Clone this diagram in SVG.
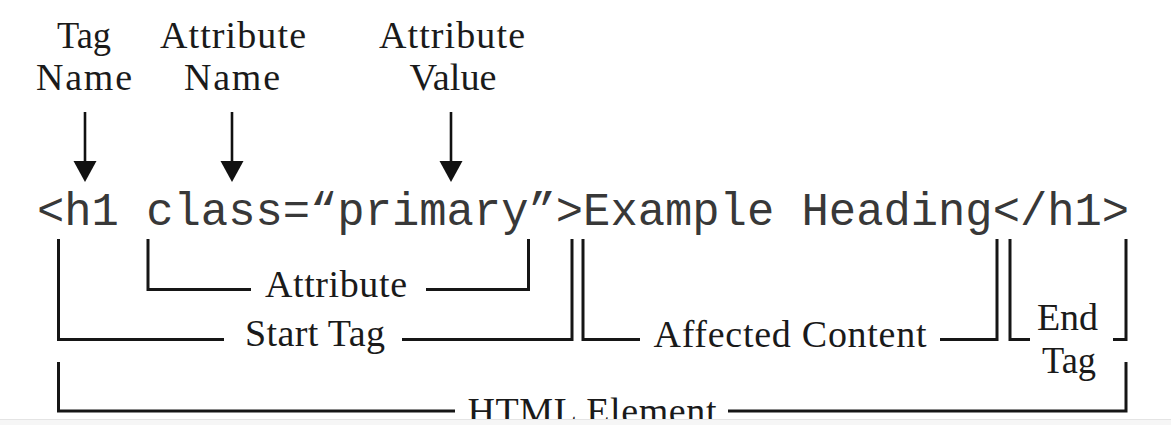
<svg xmlns="http://www.w3.org/2000/svg" width="1171" height="425" viewBox="0 0 1171 425">
  <defs>
    <marker id="arrowhead" markerUnits="userSpaceOnUse" markerWidth="22" markerHeight="24" viewBox="0 -12 22 24" refX="0" refY="0" orient="auto">
      <path d="M0,-11.5 L21,0 L0,11.5 Z" fill="#111"/>
    </marker>
    <style>
      .lbl { font-family: "Liberation Serif", "Times New Roman", serif; font-size: 38px; fill: #1a1a1a; text-anchor: middle; }
      .code { font-family: "Liberation Mono", "Courier New", monospace; font-size: 45.5px; fill: #383838; }
      .br { fill: none; stroke: #161616; stroke-width: 3; stroke-linejoin: miter; stroke-linecap: butt; }
      .arrow { stroke: #111; stroke-width: 2.6; marker-end: url(#arrowhead); }
    </style>
  </defs>
  <rect x="0" y="0" width="1171" height="425" fill="#ffffff"/>

  <g id="tag-name">
    <text class="lbl" x="84" y="48" textLength="54" lengthAdjust="spacingAndGlyphs">Tag</text>
    <text class="lbl" x="84" y="90" textLength="96" lengthAdjust="spacing">Name</text>
  </g>
  <g id="attribute-name">
    <text class="lbl" x="233" y="48" textLength="146" lengthAdjust="spacing">Attribute</text>
    <text class="lbl" x="232" y="90" textLength="96" lengthAdjust="spacing">Name</text>
  </g>
  <g id="attribute-value">
    <text class="lbl" x="452" y="48" textLength="146" lengthAdjust="spacing">Attribute</text>
    <text class="lbl" x="453" y="90" textLength="87" lengthAdjust="spacingAndGlyphs">Value</text>
  </g>

  <g id="connectors">
    <line class="arrow" x1="85" y1="112" x2="85" y2="161"/>
    <line class="arrow" x1="232" y1="112" x2="232" y2="161"/>
    <line class="arrow" x1="451" y1="112" x2="451" y2="161"/>
  </g>

  <g id="code">
    <text class="code" x="37" y="225" xml:space="preserve">&lt;h1 class=“primary”&gt;Example Heading&lt;/h1&gt;</text>
  </g>

  <g id="attribute">
    <path class="br" d="M148,239 V289.5 H251 M426,289.5 H528.5 V239"/>
    <text class="lbl" x="336" y="297" textLength="142" lengthAdjust="spacing">Attribute</text>
  </g>
  <g id="start-tag">
    <path class="br" d="M58.5,239 V339.5 H224 M402,339.5 H572 V239"/>
    <text class="lbl" x="315" y="346" textLength="140" lengthAdjust="spacing">Start Tag</text>
  </g>
  <g id="affected-content">
    <path class="br" d="M583,239 V339.5 H640 M940,339.5 H997 V239"/>
    <text class="lbl" x="790" y="347" textLength="273" lengthAdjust="spacing">Affected Content</text>
  </g>
  <g id="end-tag">
    <path class="br" d="M1010,239 V339.5 H1030 M1113,339.5 H1126 V239"/>
    <text class="lbl" x="1067.5" y="330" textLength="61" lengthAdjust="spacing">End</text>
    <text class="lbl" x="1069" y="373" textLength="54" lengthAdjust="spacingAndGlyphs">Tag</text>
  </g>
  <g id="html-element">
    <path class="br" d="M58.5,362 V411 H455 M728,411 H1126 V362"/>
    <text class="lbl" x="592" y="424" textLength="249" lengthAdjust="spacing">HTML Element</text>
  </g>

  <rect x="0" y="419.5" width="1171" height="6" fill="#f6f6f6"/>
  <line x1="0" y1="419.5" x2="1171" y2="419.5" stroke="#e4e4e4" stroke-width="1"/>
</svg>
